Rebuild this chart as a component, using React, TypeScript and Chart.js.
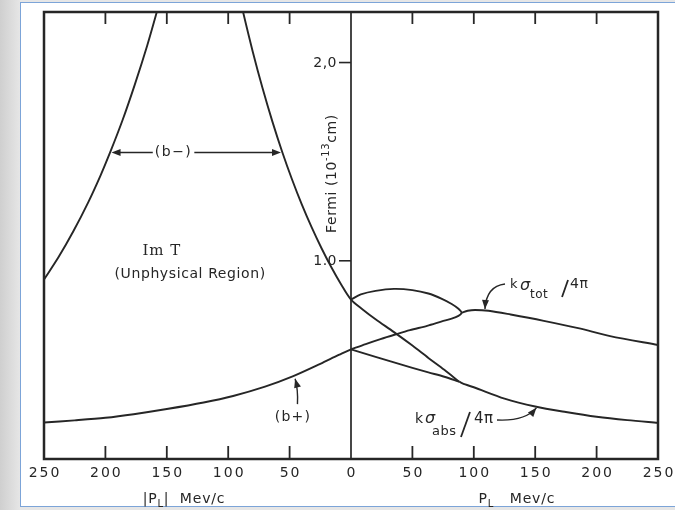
import React, { useEffect, useRef } from "react";
import { Chart, registerables } from "chart.js";

Chart.register(...registerables);

// ---- axes ----
const X_MIN = -250;
const X_MAX = 250;
const Y_MIN = 0;
const Y_MAX = 2.255;
const xTickValues = [-250, -200, -150, -100, -50, 0, 50, 100, 150, 200, 250];
const xTickLabels = ["250", "200", "150", "100", "50", "0", "50", "100", "150", "200", "250"];
const yTickValues = [1, 2];
const yTickLabels = ["1.0", "2,0"];

// ---- curves (x: MeV/c, y: Fermi) ----
const bMinusLeft: [number, number][] = [
  [-250, 0.905], [-238, 1.02], [-226, 1.15], [-214, 1.295], [-204, 1.43], [-196, 1.549],
  [-186, 1.71], [-176, 1.89], [-166, 2.085], [-158, 2.258], [-153, 2.37],
];
const bMinusRight: [number, number][] = [
  [-92, 2.37], [-88, 2.258], [-80, 2.055], [-72, 1.87], [-64, 1.702], [-56, 1.549],
  [-48, 1.41], [-40, 1.283], [-32, 1.168], [-24, 1.063], [-16, 0.967], [-8, 0.88],
  [0, 0.804], [10, 0.752], [20, 0.705], [35, 0.64], [50, 0.572], [63, 0.51], [76, 0.45],
  [88, 0.39],
];
const bPlus: [number, number][] = [
  [-250, 0.184], [-225, 0.195], [-200, 0.208], [-177, 0.226], [-150, 0.252], [-120, 0.285],
  [-96, 0.318], [-70, 0.365], [-47, 0.418], [-25, 0.48], [-10, 0.525], [0, 0.553],
];
const loopCurve: [number, number][] = [
  [0, 0.804], [8, 0.83], [20, 0.848], [35, 0.858], [50, 0.852], [63, 0.835], [74, 0.808],
  [82, 0.782], [87.5, 0.758], [90, 0.738], [87.5, 0.722], [82, 0.708], [74, 0.694],
  [62, 0.672], [48, 0.65], [36, 0.628], [24, 0.605], [12, 0.58], [0, 0.553],
];
const sigmaTot: [number, number][] = [
  [90, 0.738], [95, 0.748], [101, 0.752], [112, 0.748], [130, 0.729], [157, 0.697],
  [185, 0.66], [211, 0.62], [250, 0.575],
];
const absLeft: [number, number][] = [
  [0, 0.553], [20, 0.515], [35, 0.487], [50, 0.46], [63, 0.437], [76, 0.415], [88, 0.39],
];
const sigmaAbs: [number, number][] = [
  [88, 0.39], [93, 0.376], [100, 0.362], [125, 0.305], [150, 0.265], [175, 0.237],
  [200, 0.213], [225, 0.196], [250, 0.183],
];

const curves = [bMinusLeft, bMinusRight, bPlus, loopCurve, sigmaTot, absLeft, sigmaAbs];

// ---- annotation anchors (data units) ----
const bMinusArrow = { left: -195, right: -57, y: 1.546, labelX: -144.5 };
const bPlusLabel = { x: -47.2, y: 0.212 };
const bPlusArrow = { from: [-43.6, 0.277], ctrl: [-43.0, 0.35], to: [-45.5, 0.405] };
const imTLabel = { x: -154, y: 1.049 };
const unphysLabel = { x: -131, y: 0.933 };
const totLabel = { x: 129.5, y: 0.8626 };
const totArrow = { from: [125.4, 0.883], ctrl: [110.2, 0.872], to: [109.1, 0.757] };
const absLabel = { x: 52.1, y: 0.1816 };
const absArrow = { from: [118.9, 0.197], ctrl: [141.7, 0.19], to: [151, 0.258] };
const xTitleLeftX = -136;
const xTitleRightX = 135;
const yTitleY = 1.44;

const INK = "#262626";
const SANS = "'DejaVu Sans', 'Liberation Sans', sans-serif";

type Run = { text: string; size: number; dy?: number; italic?: boolean; serif?: boolean };

function runFont(r: Run) {
  return `${r.italic ? "italic " : ""}${r.size}px ${r.serif ? "'DejaVu Serif', serif" : SANS}`;
}

function drawRuns(ctx: CanvasRenderingContext2D, runs: Run[], x: number, y: number, align: "left" | "center", spacing = 0) {
  ctx.textAlign = "left";
  (ctx as any).letterSpacing = spacing + "px";
  let total = 0;
  const widths = runs.map((r) => {
    ctx.font = runFont(r);
    const w = ctx.measureText(r.text).width;
    total += w;
    return w;
  });
  let cx = align === "center" ? x - total / 2 : x;
  runs.forEach((r, i) => {
    ctx.font = runFont(r);
    ctx.fillText(r.text, cx, y + (r.dy || 0));
    cx += widths[i];
  });
  (ctx as any).letterSpacing = "0px";
}

function arrowHead(ctx: CanvasRenderingContext2D, tx: number, ty: number, ang: number, len = 9, half = 3.5) {
  ctx.beginPath();
  ctx.moveTo(tx, ty);
  ctx.lineTo(tx - len * Math.cos(ang) + half * Math.sin(ang), ty - len * Math.sin(ang) - half * Math.cos(ang));
  ctx.lineTo(tx - len * Math.cos(ang) - half * Math.sin(ang), ty - len * Math.sin(ang) + half * Math.cos(ang));
  ctx.closePath();
  ctx.fill();
}

const overlay = {
  id: "overlay",
  afterDatasetsDraw(chart: any) {
    const { ctx, chartArea: a, scales } = chart;
    const px = (v: number) => scales.x.getPixelForValue(v);
    const py = (v: number) => scales.y.getPixelForValue(v);
    const seg = (x1: number, y1: number, x2: number, y2: number) => {
      ctx.beginPath();
      ctx.moveTo(x1, y1);
      ctx.lineTo(x2, y2);
      ctx.stroke();
    };
    const curveArrow = (c: { from: number[]; ctrl: number[]; to: number[] }) => {
      const [fx, fy] = [px(c.from[0]), py(c.from[1])];
      const [cx, cy] = [px(c.ctrl[0]), py(c.ctrl[1])];
      const [tx, ty] = [px(c.to[0]), py(c.to[1])];
      ctx.lineWidth = 1.4;
      ctx.beginPath();
      ctx.moveTo(fx, fy);
      ctx.quadraticCurveTo(cx, cy, tx, ty);
      ctx.stroke();
      arrowHead(ctx, tx, ty, Math.atan2(ty - cy, tx - cx));
    };

    ctx.save();
    ctx.strokeStyle = INK;
    ctx.fillStyle = INK;
    ctx.lineCap = "butt";

    // frame
    ctx.lineWidth = 2.5;
    ctx.strokeRect(a.left, a.top, a.right - a.left, a.bottom - a.top);

    // central axis
    const x0 = px(0);
    ctx.lineWidth = 1.7;
    seg(x0, a.top, x0, a.bottom);

    // x tick marks (inward, top and bottom)
    ctx.lineWidth = 1.8;
    xTickValues.forEach((v) => {
      if (v === X_MIN || v === X_MAX || v === 0) return;
      seg(px(v), a.top, px(v), a.top + 12);
      seg(px(v), a.bottom, px(v), a.bottom - 13);
    });

    // x tick labels
    ctx.textBaseline = "middle";
    xTickValues.forEach((v, i) => {
      drawRuns(ctx, [{ text: xTickLabels[i], size: 14 }], px(v) + 1, a.bottom + 14, "center", 2);
    });

    // y ticks and labels
    yTickValues.forEach((v, i) => {
      ctx.lineWidth = 1.6;
      seg(x0 - 12, py(v), x0, py(v));
      ctx.textBaseline = "middle";
      ctx.font = `14px ${SANS}`;
      ctx.textAlign = "right";
      (ctx as any).letterSpacing = "0.5px";
      ctx.fillText(yTickLabels[i], x0 - 14, py(v) + 0.5);
      (ctx as any).letterSpacing = "0px";
    });

    // y axis title (rotated)
    ctx.save();
    ctx.translate(x0 - 19, py(yTitleY));
    ctx.rotate(-Math.PI / 2);
    ctx.textBaseline = "middle";
    drawRuns(
      ctx,
      [
        { text: "Fermi (10", size: 14 },
        { text: "-13", size: 10, dy: -6 },
        { text: "cm)", size: 14 },
      ],
      0,
      0,
      "center",
      0.6
    );
    ctx.restore();

    // x axis titles
    ctx.textBaseline = "alphabetic";
    drawRuns(
      ctx,
      [
        { text: "|P", size: 14 },
        { text: "L", size: 10, dy: 4 },
        { text: "|  Mev/c", size: 14 },
      ],
      px(xTitleLeftX),
      a.bottom + 44,
      "center",
      0.8
    );
    drawRuns(
      ctx,
      [
        { text: "P", size: 14 },
        { text: "L", size: 10, dy: 4 },
        { text: "   Mev/c", size: 14 },
      ],
      px(xTitleRightX),
      a.bottom + 44,
      "center",
      0.8
    );

    // (b-) double arrow
    ctx.textBaseline = "middle";
    ctx.font = `14px ${SANS}`;
    (ctx as any).letterSpacing = "1.5px";
    const bmText = "(b\u2212)";
    const bmW = ctx.measureText(bmText).width;
    (ctx as any).letterSpacing = "0px";
    const by = py(bMinusArrow.y);
    const lx = px(bMinusArrow.left);
    const rx = px(bMinusArrow.right);
    const cxl = px(bMinusArrow.labelX);
    ctx.lineWidth = 1.5;
    seg(lx + 4, by, cxl - bmW / 2 - 2, by);
    seg(cxl + bmW / 2 + 2, by, rx - 4, by);
    arrowHead(ctx, lx, by, Math.PI);
    arrowHead(ctx, rx, by, 0);
    drawRuns(ctx, [{ text: bmText, size: 14 }], cxl, by, "center", 1.5);

    // (b+) label + arrow
    drawRuns(ctx, [{ text: "(b+)", size: 14 }], px(bPlusLabel.x), py(bPlusLabel.y), "center", 1.2);
    curveArrow(bPlusArrow);

    // Im T / (Unphysical Region)
    drawRuns(ctx, [{ text: "Im T", size: 15, serif: true }], px(imTLabel.x), py(imTLabel.y), "center", 1);
    drawRuns(ctx, [{ text: "(Unphysical Region)", size: 14 }], px(unphysLabel.x), py(unphysLabel.y), "center", 0.6);

    // k sigma_tot / 4 pi
    ctx.textBaseline = "alphabetic";
    {
      const kx = px(totLabel.x);
      const ky = py(totLabel.y);
      drawRuns(ctx, [{ text: "k", size: 13 }], kx, ky, "left");
      drawRuns(ctx, [{ text: "\u03c3", size: 16, italic: true }], kx + 10, ky + 2, "left");
      drawRuns(ctx, [{ text: "tot", size: 12 }], kx + 20, ky + 10, "left", 0.5);
      ctx.lineWidth = 1.8;
      seg(kx + 52, ky + 9, kx + 58, ky - 8);
      drawRuns(ctx, [{ text: "4\u03c0", size: 14 }], kx + 60, ky, "left", 0.5);
      curveArrow(totArrow);
    }

    // k sigma_abs / 4 pi
    {
      const kx = px(absLabel.x);
      const ky = py(absLabel.y);
      drawRuns(ctx, [{ text: "k", size: 14 }], kx, ky, "left");
      drawRuns(ctx, [{ text: "\u03c3", size: 16, italic: true }], kx + 10, ky, "left");
      drawRuns(ctx, [{ text: "abs", size: 13 }], kx + 17, ky + 12, "left", 0.5);
      ctx.lineWidth = 1.8;
      seg(kx + 46, ky + 14, kx + 55, ky - 11);
      drawRuns(ctx, [{ text: "4\u03c0", size: 15 }], kx + 59, ky, "left", 0.5);
      curveArrow(absArrow);
    }

    ctx.restore();
  },
};

export default function App() {
  const ref = useRef<HTMLCanvasElement>(null);

  useEffect(() => {
    document.body.style.margin = "0";
    const canvas = ref.current;
    if (!canvas) return;
    const chart = new Chart(canvas, {
      type: "scatter",
      data: {
        datasets: curves.map((c) => ({
          data: c.map(([x, y]) => ({ x, y })),
          showLine: true,
          borderColor: INK,
          borderWidth: 1.9,
          pointRadius: 0,
          pointHoverRadius: 0,
          tension: 0.3,
          fill: false,
          clip: 0,
        })),
      },
      options: {
        animation: false,
        responsive: false,
        devicePixelRatio: 1,
        layout: { padding: { left: 44, right: 17, top: 12, bottom: 51 } },
        scales: {
          x: { type: "linear", min: X_MIN, max: X_MAX, display: false },
          y: { type: "linear", min: Y_MIN, max: Y_MAX, display: false },
        },
        plugins: { legend: { display: false }, tooltip: { enabled: false } },
        events: [],
      },
      plugins: [overlay],
    } as any);
    return () => chart.destroy();
  }, []);

  return (
    <div
      style={{
        position: "relative",
        width: 675,
        height: 510,
        overflow: "hidden",
        background: "linear-gradient(90deg, #cfcfcf 0px, #e6e6e6 20px)",
      }}
    >
      <div
        style={{
          position: "absolute",
          left: 20,
          top: 2,
          width: 670,
          height: 503,
          background: "#ffffff",
          borderLeft: "1.5px solid #7ca4d8",
          borderTop: "1.5px solid #7ca4d8",
          borderBottom: "1.5px solid #7ca4d8",
        }}
      />
      <canvas
        ref={ref}
        width={675}
        height={510}
        style={{ position: "absolute", left: 0, top: 0, width: 675, height: 510 }}
      />
    </div>
  );
}
